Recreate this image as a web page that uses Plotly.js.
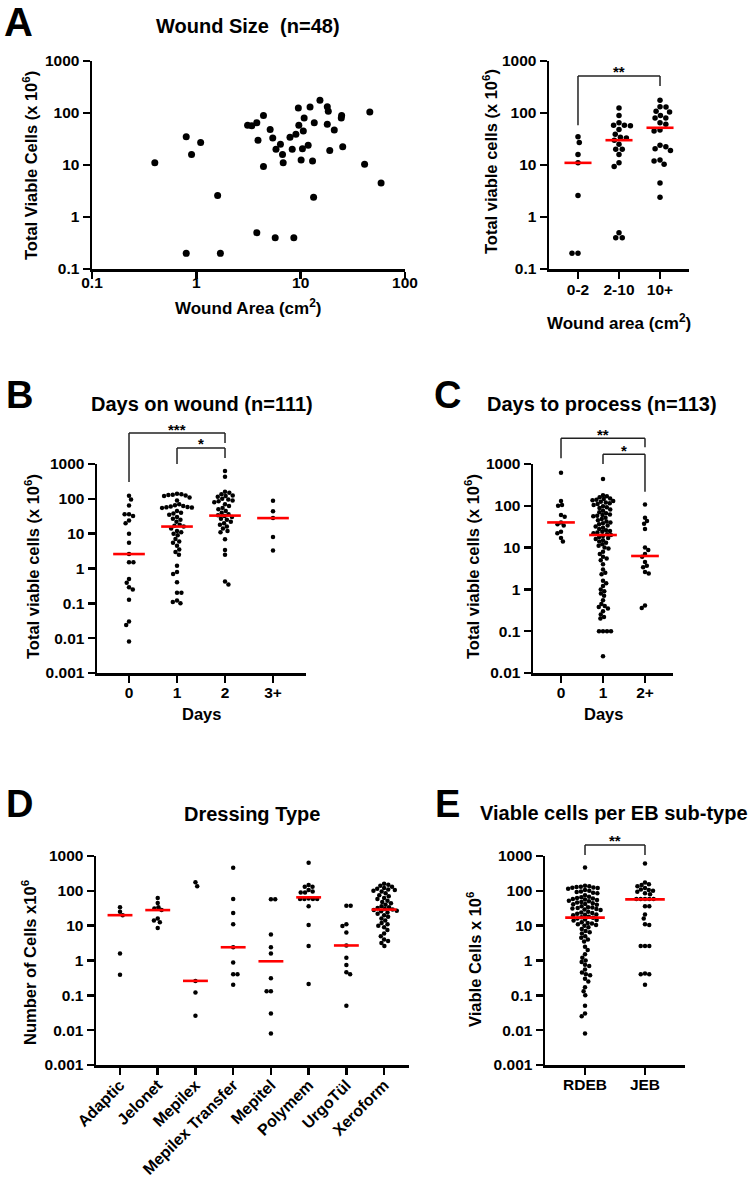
<!DOCTYPE html>
<html><head><meta charset="utf-8">
<script src="https://cdn.plot.ly/plotly-3.0.1.min.js"></script>
<style>html,body{margin:0;padding:0;background:#fff}#chart{width:751px;height:1177px}</style>
</head><body><div id="chart"></div>
<script>
// ===================== DATA =====================
// Panel A – wound size scatter (n=48)
const woundArea  = [0.4, 0.8, 0.9, 1.1, 0.8, 1.6, 1.7, 3.1, 3.4, 3.8, 4.4, 3.9, 4.4, 3.8, 5.1, 5.4, 5.8, 5.7, 6.4, 6.7, 6.8, 7.9, 8.3, 8.6, 9.0, 9.6, 9.5, 10.1, 10.6, 10.8, 10.4, 11.8, 12.3, 13.0, 13.5, 13.3, 15.3, 18.0, 18.4, 18.0, 19.0, 21.0, 24.7, 24.5, 25.3, 41.0, 46.0, 59.0];
const woundCells = [11, 35, 16, 27, 0.2, 2.6, 0.2, 58, 57, 65, 90, 30, 9.4, 0.5, 48, 33, 20, 0.4, 25, 16, 11, 34, 20, 0.4, 39, 58, 125, 12.5, 45, 80, 20.6, 24, 130, 12, 65, 2.4, 175, 132, 108, 61, 19, 47, 90, 80, 22.5, 10.3, 105, 4.5];
const areaBins      = ['0-2', '2-10', '10+'];
const areaBinEdges  = [2, 10];
const areaMedians   = [11, 30, 52];
const areaTickVals  = [0.1, 1, 10, 100];
const areaTickText  = ['0.1', '1', '10', '100'];
const cellTicksA    = [0.1, 1, 10, 100, 1000];
const cellTicksAtxt = ['0.1', '1', '10', '100', '1000'];

// Panel B – days on wound (n=111)
const dowCats = ['0', '1', '2', '3+'];
const dowDay0 = [123, 95, 64, 36, 32, 36, 24, 20, 10, 5.5, 2.6, 1.5, 1.5, 0.5, 0.39, 0.29, 0.25, 0.127, 0.030, 0.024, 0.008];
const dowDay1 = [140, 135, 130, 128, 125, 120, 110, 90, 70, 65, 62, 60, 58, 57, 56, 55, 45, 40, 38, 35, 30, 27, 25, 22, 18, 17, 16, 14, 12, 11, 10, 9, 7, 6, 5.5, 4.5, 3.5, 3, 2.5, 1.2, 0.8, 0.7, 0.4, 0.2, 0.2, 0.12, 0.11, 0.1];
const dowDay2 = [630, 430, 160, 150, 135, 125, 120, 115, 100, 95, 90, 85, 80, 70, 62, 55, 50, 45, 40, 36, 34, 32, 30, 27, 25, 22, 20, 18, 16, 14, 12, 11, 6.9, 3.4, 2.5, 0.42, 0.35];
const dowDay3 = [88, 44, 28, 8, 3.3];
const dowMedians = [2.6, 16, 33, 28];

// Panel C – days to process (n=113)
const dtpCats = ['0', '1', '2+'];
const dtpDay0 = [620, 130, 105, 100, 60, 55, 40, 36, 34, 24, 22, 17, 14];
const dtpDay1 = [437, 180, 170, 160, 150, 145, 140, 135, 130, 125, 120, 115, 110, 105, 98, 92, 88, 82, 76, 70, 66, 62, 60, 58, 56, 52, 48, 45, 42, 40, 38, 36, 34, 32, 30, 28, 26, 25, 24, 23, 22, 21, 20, 19, 18, 17, 16, 15, 14, 13, 12, 11, 10, 9.5, 8, 7, 6, 5.5, 5, 4, 3, 2.5, 2.3, 1.6, 1.4, 1.2, 1.0, 0.9, 0.8, 0.7, 0.55, 0.45, 0.4, 0.38, 0.35, 0.3, 0.25, 0.22, 0.2, 0.1, 0.1, 0.1, 0.1, 0.025];
const dtpDay2 = [108, 52, 43, 37, 28, 10, 8.8, 7, 6, 4.5, 3.7, 3.4, 2.6, 2.4, 0.41, 0.36];
const dtpMedians = [40, 20, 6.3];

// Panel D – dressing type
const dressCats = ['Adaptic', 'Jelonet', 'Mepilex', 'Mepilex Transfer', 'Mepitel', 'Polymem', 'UrgoTül', 'Xeroform'];
const dAdaptic  = [34, 25, 20, 1.6, 0.39];
const dJelonet  = [62, 45, 34, 31, 28, 16, 14, 12.5, 8.6];
const dMepilex  = [175, 135, 0.26, 0.12, 0.026];
const dMepTrans = [460, 58, 23, 11, 2.4, 0.87, 0.4, 0.4, 0.2];
const dMepitel  = [57, 57, 5.6, 2.4, 1.6, 0.31, 0.13, 0.13, 0.03, 0.008];
const dPolymem  = [644, 147, 130, 130, 105, 95, 90, 90, 60, 58, 58, 58, 58, 36, 10.4, 2.6, 0.21];
const dUrgoTul  = [37, 37, 11, 9.8, 6.4, 2.7, 1.2, 0.74, 0.46, 0.40, 0.05];
const dXeroform = [160, 150, 140, 130, 120, 115, 110, 105, 100, 95, 85, 75, 70, 62, 58, 52, 48, 44, 40, 36, 34, 32, 30, 29, 28, 27, 26, 24, 22, 20, 18, 16, 14, 12, 11, 10, 9, 7.5, 6, 5, 4, 3.6, 3.2, 2.6];
const dressMedians = [20, 28, 0.26, 2.4, 0.95, 65, 2.7, 29];

// Panel E – EB sub-type
const ebCats = ['RDEB', 'JEB'];
const ebRDEB = [470, 140, 135, 130, 128, 125, 122, 120, 115, 105, 100, 95, 92, 88, 85, 75, 68, 65, 62, 60, 58, 56, 55, 52, 50, 48, 46, 44, 42, 41, 40, 36, 34, 33, 32, 31, 30, 29, 28, 25, 24, 23, 22, 21, 20.5, 20, 18, 17.5, 17, 16, 15, 14.5, 14, 12.5, 12, 11.5, 11, 10.5, 10, 9, 8, 7, 6.5, 6, 5, 4.5, 4, 3.5, 2.5, 2, 1.5, 1.2, 1.0, 0.9, 0.75, 0.7, 0.55, 0.45, 0.4, 0.38, 0.3, 0.25, 0.17, 0.13, 0.1, 0.05, 0.03, 0.025, 0.008];
const ebJEB  = [614, 174, 155, 146, 136, 120, 110, 105, 100, 94, 85, 80, 58, 58, 58, 58, 58, 36, 36, 21, 16, 11, 10.5, 2.6, 2.6, 2.6, 0.42, 0.40, 0.40, 0.2];
const ebMedians = [17, 57];

// shared log tick labels
const decTicks6 = [0.001, 0.01, 0.1, 1, 10, 100, 1000];
const decText6  = ['0.001', '0.01', '0.1', '1', '10', '100', '1000'];
const decTicks5 = [0.01, 0.1, 1, 10, 100, 1000];
const decText5  = ['0.01', '0.1', '1', '10', '100', '1000'];

// significance comparisons: [groupA, groupB, bracket level, left leg end, right leg end, label]
const sigA = [[0, 2, 515, 58, 330, '**']];
const sigB = [[0, 2, 7760, 304, 4000, '***'], [1, 2, 2880, 1000, 1490, '*']];
const sigC = [[0, 2, 4120, 1370, 2510, '**'], [1, 2, 1710, 1000, 217, '*']];
const sigE = [[0, 1, 2075, 1070, 1070, '**']];

// ===================== LAYOUT GEOMETRY =====================
const W = 751, H = 1177;
const FONT = "Arial, 'Liberation Sans', Helvetica, sans-serif";
const px = v => v / W, py = v => 1 - v / H;

const panels = {
  A1: {x: [92, 405],  y: [61, 269],  xr: [-1, 2],         yr: [-1, 3]},
  A2: {x: [549, 689], y: [61, 269],  xr: [-0.707, 2.707], yr: [-1, 3]},
  B:  {x: [97, 306],  y: [464, 673], xr: [-0.667, 3.6875], yr: [-3, 3]},
  C:  {x: [533, 673], y: [464, 673], xr: [-0.667, 2.667], yr: [-2, 3]},
  D:  {x: [96, 409],  y: [856, 1065], xr: [-0.636, 7.66], yr: [-3, 3]},
  E:  {x: [545, 685], y: [856, 1065], xr: [-0.667, 1.667], yr: [-3, 3]},
};

// beeswarm offsets computed in pixel space
function swarm(values, center, p, d) {
  const pxX = (p.x[1] - p.x[0]) / (p.xr[1] - p.xr[0]);
  const pxY = (p.y[1] - p.y[0]) / (p.yr[1] - p.yr[0]);
  const idx = values.map((v, i) => i).sort((a, b) => values[b] - values[a]);
  const placed = [], xs = new Array(values.length);
  let flip = false;
  for (const i of idx) {
    const y = Math.log10(values[i]) * pxY;
    const near = placed.filter(q => Math.abs(q.y - y) < d);
    const cands = [0];
    near.forEach(q => { const dx = Math.sqrt(d * d - (q.y - y) ** 2); cands.push(q.x + dx, q.x - dx); });
    cands.sort((a, b) => (Math.abs(a) - Math.abs(b)) || (flip ? a - b : b - a));
    const best = cands.find(x => near.every(q => (q.x - x) ** 2 + (q.y - y) ** 2 >= d * d - 1e-6));
    if (best !== 0) flip = !flip;
    placed.push({x: best, y});
    xs[i] = center + best / pxX;
  }
  return xs;
}

const traces = [];
function addGroups(groups, p, ax, d, size) {
  groups.forEach((vals, g) => {
    traces.push({type: 'scatter', mode: 'markers', x: swarm(vals, g, p, d), y: vals,
      xaxis: 'x' + ax, yaxis: 'y' + ax, hoverinfo: 'skip', showlegend: false,
      marker: {color: '#000', size: size, line: {width: 0}}});
  });
}
function addMedians(meds, ax) {
  const x = [], y = [];
  meds.forEach((m, g) => { x.push(g - 0.33, g + 0.33, null); y.push(m, m, null); });
  traces.push({type: 'scatter', mode: 'lines', x, y, xaxis: 'x' + ax, yaxis: 'y' + ax,
    hoverinfo: 'skip', showlegend: false, line: {color: '#ff0000', width: 2.6}});
}

// Panel A left scatter
traces.push({type: 'scatter', mode: 'markers', x: woundArea, y: woundCells, xaxis: 'x', yaxis: 'y',
  hoverinfo: 'skip', showlegend: false, marker: {color: '#000', size: 7, line: {width: 0}}});
// Panel A right: binned by wound area
const binned = areaBins.map(() => []);
woundArea.forEach((a, i) => {
  const b = a < areaBinEdges[0] ? 0 : (a < areaBinEdges[1] ? 1 : 2);
  binned[b].push(woundCells[i]);
});
addGroups(binned, panels.A2, 2, 6, 5.5); addMedians(areaMedians, 2);
addGroups([dowDay0, dowDay1, dowDay2, dowDay3], panels.B, 3, 4.4, 4.5); addMedians(dowMedians, 3);
addGroups([dtpDay0, dtpDay1, dtpDay2], panels.C, 4, 4.0, 4.5); addMedians(dtpMedians, 4);
addGroups([dAdaptic, dJelonet, dMepilex, dMepTrans, dMepitel, dPolymem, dUrgoTul, dXeroform], panels.D, 5, 4.3, 4.5); addMedians(dressMedians, 5);
addGroups([ebRDEB, ebJEB], panels.E, 6, 4.3, 4.5); addMedians(ebMedians, 6);

// axes
const tickFont = {family: FONT, size: 15.5, color: '#000', weight: 'bold'};
function ax(p, dir, extra) {
  const dom = dir === 'x' ? [px(p.x[0]), px(p.x[1])] : [py(p.y[1]), py(p.y[0])];
  return Object.assign({domain: dom, range: dir === 'x' ? p.xr : p.yr, showline: true, linecolor: '#000', linewidth: 2.5,
    ticks: 'outside', ticklen: 7, tickwidth: 2.5, tickcolor: '#000', showgrid: false, zeroline: false,
    tickfont: tickFont, fixedrange: true, tickmode: 'array'}, extra);
}
const layout = {
  width: W, height: H, margin: {l: 0, r: 0, t: 0, b: 0}, paper_bgcolor: '#fff', plot_bgcolor: 'rgba(0,0,0,0)',
  showlegend: false, font: {family: FONT, color: '#000'},
  xaxis:  ax(panels.A1, 'x', {type: 'log', anchor: 'y', tickvals: areaTickVals, ticktext: areaTickText, ticklabelstandoff: -9}),
  yaxis:  ax(panels.A1, 'y', {type: 'log', anchor: 'x', tickvals: cellTicksA, ticktext: cellTicksAtxt}),
  xaxis2: ax(panels.A2, 'x', {anchor: 'y2', tickvals: [0, 1, 2], ticktext: areaBins, ticklabelstandoff: -2}),
  yaxis2: ax(panels.A2, 'y', {type: 'log', anchor: 'x2', tickvals: cellTicksA, ticktext: cellTicksAtxt}),
  xaxis3: ax(panels.B, 'x', {anchor: 'y3', tickvals: [0, 1, 2, 3], ticktext: dowCats, ticklabelstandoff: -3}),
  yaxis3: ax(panels.B, 'y', {type: 'log', anchor: 'x3', tickvals: decTicks6, ticktext: decText6}),
  xaxis4: ax(panels.C, 'x', {anchor: 'y4', tickvals: [0, 1, 2], ticktext: dtpCats, ticklabelstandoff: -3}),
  yaxis4: ax(panels.C, 'y', {type: 'log', anchor: 'x4', tickvals: decTicks5, ticktext: decText5}),
  xaxis5: ax(panels.D, 'x', {anchor: 'y5', tickvals: dressCats.map((c, i) => i), ticktext: dressCats, tickangle: -45,
    ticklabelstandoff: -5, tickfont: {family: FONT, size: 16, color: '#000', weight: 'bold'}}),
  yaxis5: ax(panels.D, 'y', {type: 'log', anchor: 'x5', tickvals: decTicks6, ticktext: decText6}),
  xaxis6: ax(panels.E, 'x', {anchor: 'y6', tickvals: [0, 1], ticktext: ebCats, ticklabelstandoff: -3}),
  yaxis6: ax(panels.E, 'y', {type: 'log', anchor: 'x6', tickvals: decTicks6, ticktext: decText6}),
  shapes: [], annotations: []
};

// significance brackets
function addSig(list, p, n) {
  const f = v => (Math.log10(v) - p.yr[0]) / (p.yr[1] - p.yr[0]);
  list.forEach(([a, b, lvl, la, lb, lab]) => {
    const base = {type: 'line', xref: 'x' + n, yref: 'y' + n + ' domain', line: {color: '#222', width: 1.5}};
    layout.shapes.push(Object.assign({x0: a, x1: b, y0: f(lvl), y1: f(lvl)}, base));
    layout.shapes.push(Object.assign({x0: a, x1: a, y0: f(lvl), y1: f(la)}, base));
    layout.shapes.push(Object.assign({x0: b, x1: b, y0: f(lvl), y1: f(lb)}, base));
    layout.annotations.push({text: lab, xref: 'x' + n, yref: 'y' + n + ' domain', x: (a + b) / 2, y: f(lvl),
      xanchor: 'center', yanchor: 'middle', yshift: 4, showarrow: false, font: {family: FONT, size: 15, weight: 'bold', color: '#000'}});
  });
}
addSig(sigA, panels.A2, 2); addSig(sigB, panels.B, 3); addSig(sigC, panels.C, 4); addSig(sigE, panels.E, 6);

// text labels
function txt(text, x, y, size, angle) {
  layout.annotations.push({text, xref: 'paper', yref: 'paper', x: px(x), y: py(y), xanchor: 'center', yanchor: 'middle',
    showarrow: false, textangle: angle || 0, font: {family: FONT, size, weight: 'bold', color: '#000'}});
}
txt('A', 18, 22, 40); txt('B', 19, 395, 38); txt('C', 447, 395, 38); txt('D', 19, 804, 38); txt('E', 447, 804, 38);
txt('Wound Size  (n=48)', 248, 26, 20);
txt('Days on wound (n=111)', 202, 404, 20);
txt('Days to process (n=113)', 602, 404, 20);
txt('Dressing Type', 252, 814, 20);
txt('Viable cells per EB sub-type', 614, 813, 20);
txt('Wound Area (cm<sup>2</sup>)', 248, 307, 17);
txt('Wound area (cm<sup>2</sup>)', 619, 322, 17);
txt('Days', 201, 714, 16.5);
txt('Days', 603, 714, 16.5);
txt('Total Viable Cells (x 10<sup>6</sup>)', 30, 166, 16.5, -90);
txt('Total viable cells (x 10<sup>6</sup>)', 490, 162, 16.5, -90);
txt('Total viable cells (x 10<sup>6</sup>)', 32, 567, 16.5, -90);
txt('Total viable cells (x 10<sup>6</sup>)', 472, 567, 16.5, -90);
txt('Number of Cells x10<sup>6</sup>', 29, 963, 16.5, -90);
txt('Viable Cells x 10<sup>6</sup>', 474, 960, 16.5, -90);

Plotly.newPlot('chart', traces, layout, {displayModeBar: false, staticPlot: true});
</script></body></html>
